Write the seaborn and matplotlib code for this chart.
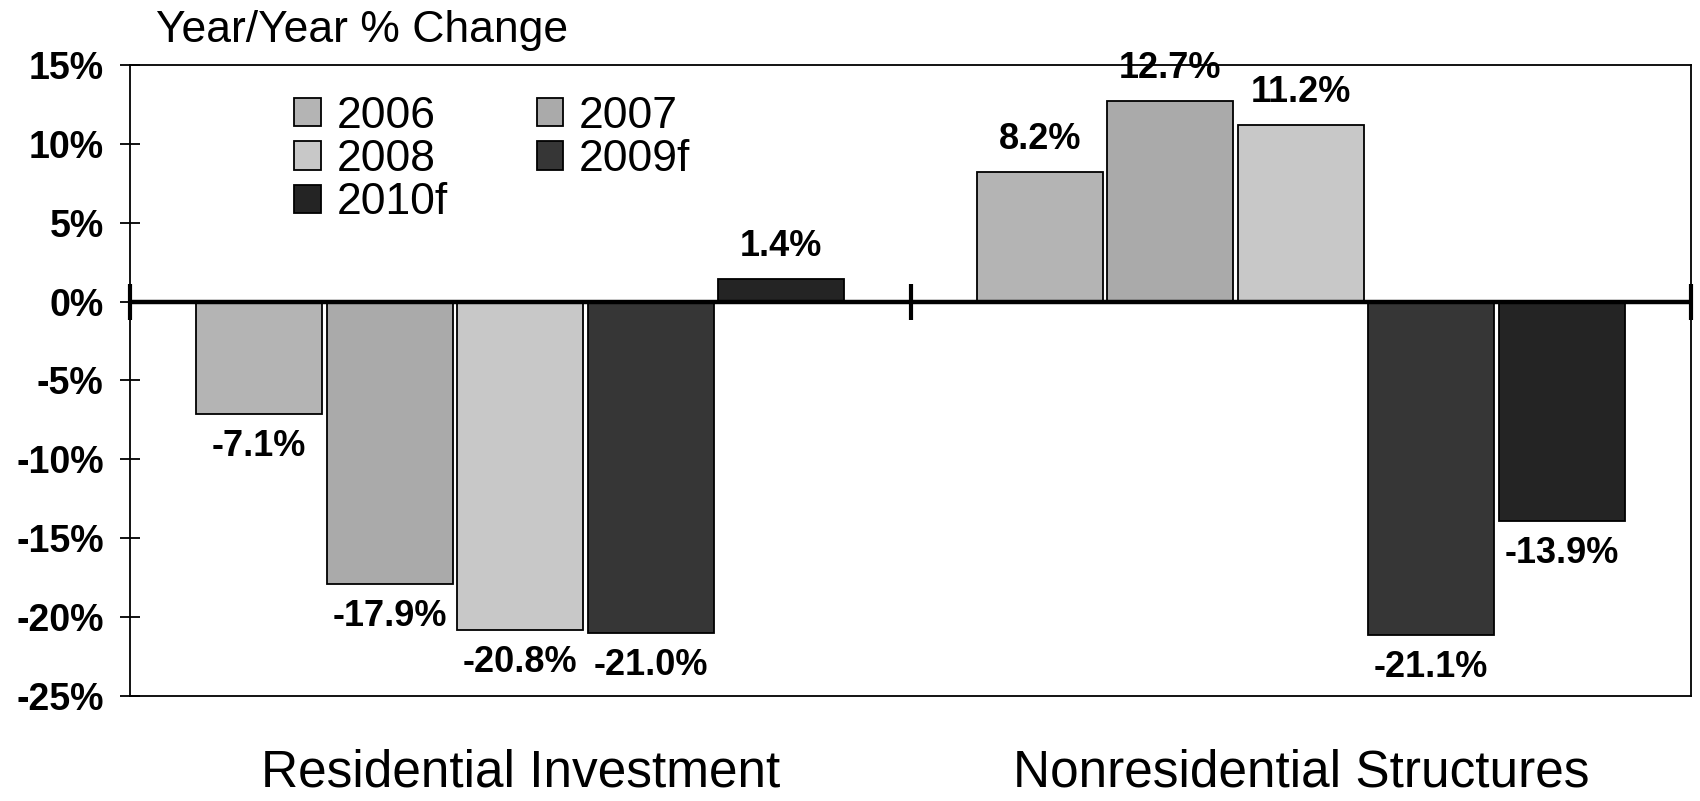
import seaborn as sns
import matplotlib.pyplot as plt
import pandas as pd

sns.set_style("ticks")
plt.rcParams['font.family'] = ['Liberation Sans Narrow', 'Liberation Sans', 'DejaVu Sans']
plt.rcParams['text.color'] = 'black'
plt.rcParams['xtick.color'] = 'black'
plt.rcParams['ytick.color'] = 'black'
plt.rcParams['axes.edgecolor'] = 'black'

# data
categories = ["Residential Investment", "Nonresidential Structures"]
years = ["2006", "2007", "2008", "2009f", "2010f"]
residential = [-7.1, -17.9, -20.8, -21.0, 1.4]
nonresidential = [8.2, 12.7, 11.2, -21.1, -13.9]
colors = ["#b4b4b4", "#aaaaaa", "#c8c8c8", "#363636", "#242424"]
yticks = [-25, -20, -15, -10, -5, 0, 5, 10, 15]

df = pd.DataFrame({
    "cat": [categories[0]] * 5 + [categories[1]] * 5,
    "year": years * 2,
    "val": residential + nonresidential,
})

fig, ax = plt.subplots(figsize=(17, 8.01), dpi=100)
fig.subplots_adjust(left=0.0765, right=0.9947, top=0.919, bottom=0.131)

sns.barplot(data=df, x="cat", y="val", hue="year", hue_order=years,
            palette=colors, saturation=1, width=0.836, gap=0.035,
            edgecolor="black", linewidth=1.3, ax=ax, zorder=2)

for cont in ax.containers:
    ax.bar_label(cont, labels=[f"{v:.1f}%" for v in cont.datavalues],
                 padding=11, fontsize=26, fontweight="bold", color="black")

ax.set_xlim(-0.5, len(categories) - 0.5)
ax.set_ylim(-25, 15)
ax.set_yticks(yticks)
ax.set_yticklabels([f"{v}%" for v in yticks], fontsize=27, fontweight="bold")
ax.tick_params(axis="y", direction="inout", length=14, width=1.3, pad=12, colors="black")
ax.tick_params(axis="x", length=0, pad=38, labelsize=37, colors="black")
ax.set_xlabel("")
ax.set_ylabel("")

for s in ax.spines.values():
    s.set_linewidth(1.3)
    s.set_color("black")

# zero line with category separator ticks
ax.axhline(0, color="black", lw=3.2, zorder=3)
ax.plot([i - 0.5 for i in range(len(categories) + 1)], [0] * (len(categories) + 1),
        ls="none", marker="|", ms=26, mew=3, color="black", zorder=4, clip_on=False)

# legend in 2006/2007, 2008/2009f, 2010f order
handles, labels = ax.get_legend_handles_labels()
order = [0, 2, 4, 1, 3]
ax.legend([handles[i] for i in order], [labels[i] for i in order], ncol=2,
          loc="upper left", bbox_to_anchor=(0.16, 0.908), bbox_transform=fig.transFigure,
          frameon=False, fontsize=32, handlelength=0.6, handleheight=0.6,
          handletextpad=0.35, columnspacing=2.0, labelspacing=0.05, borderpad=0)

fig.text(0.092, 0.962, "Year/Year % Change", fontsize=32, va="center", ha="left")

fig.savefig("out.png", dpi=100)
